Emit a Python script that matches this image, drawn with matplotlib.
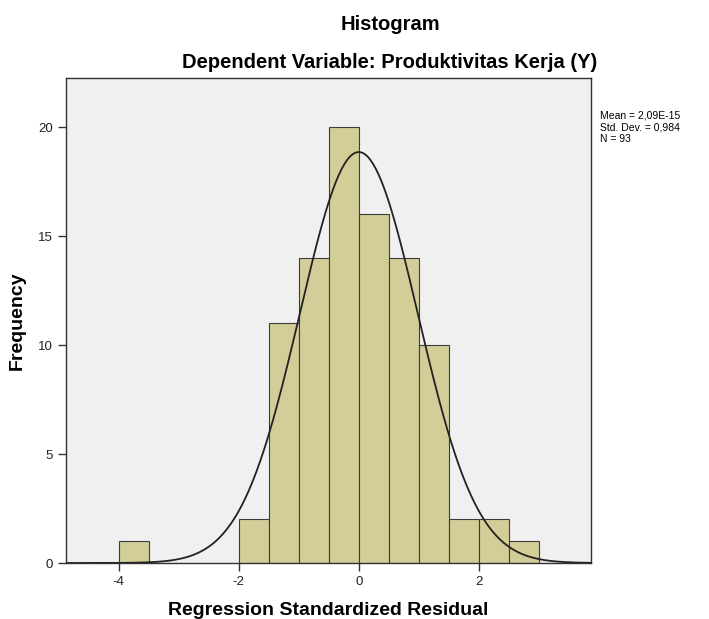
import matplotlib
matplotlib.use("Agg")
import matplotlib.pyplot as plt
import numpy as np

plt.rcParams['font.family'] = ['Liberation Sans', 'DejaVu Sans']
plt.rcParams['axes.unicode_minus'] = False

# bin edges and counts
bin_left = [-4.0, -2.0, -1.5, -1.0, -0.5, 0.0, 0.5, 1.0, 1.5, 2.0, 2.5]
counts = [1, 2, 11, 14, 20, 16, 14, 10, 2, 2, 1]
bin_width = 0.5
mean = 2.09e-15
std = 0.984
n = 93

fig = plt.figure(figsize=(7.09, 6.19), dpi=100)
ax = fig.add_axes([66/709, 1-563/619, (591-66)/709, (563-78)/619])
ax.set_facecolor('#f0f0f0')

ax.bar(bin_left, counts, width=bin_width, align='edge',
       color='#d3ce97', edgecolor='#3c3c3c', linewidth=0.8, zorder=2)

xs = np.linspace(-4.9, 3.9, 400)
ys = n * bin_width * np.exp(-0.5 * ((xs - mean) / std) ** 2) / (std * np.sqrt(2 * np.pi))
ax.plot(xs, ys, color='#222222', linewidth=1.3, zorder=3)

ax.set_xlim(-4.88, 3.87)
ax.set_ylim(0, 22.25)
ax.set_xticks([-4, -2, 0, 2])
ax.set_yticks([0, 5, 10, 15, 20])
ax.tick_params(labelsize=9.5, length=6, width=1, color='#333333', labelcolor='#222222')
for s in ax.spines.values():
    s.set_color('#333333')
    s.set_linewidth(1)

ax.set_xlabel('Regression Standardized Residual', fontsize=14, fontweight='bold', labelpad=10)
ax.set_ylabel('Frequency', fontsize=14, fontweight='bold', labelpad=9)

fig.text(390/709, 1-25/619, 'Histogram', ha='center', va='center', fontsize=14.5, fontweight='bold')
fig.text(390/709, 1-62/619, 'Dependent Variable: Produktivitas Kerja (Y)', ha='center', va='center',
         fontsize=14.5, fontweight='bold')

fig.text(600/709, 1-110/619, 'Mean = 2,09E-15\nStd. Dev. = 0,984\nN = 93', ha='left', va='top',
         fontsize=7.5, linespacing=1.25)

fig.savefig('out.png', dpi=100)
